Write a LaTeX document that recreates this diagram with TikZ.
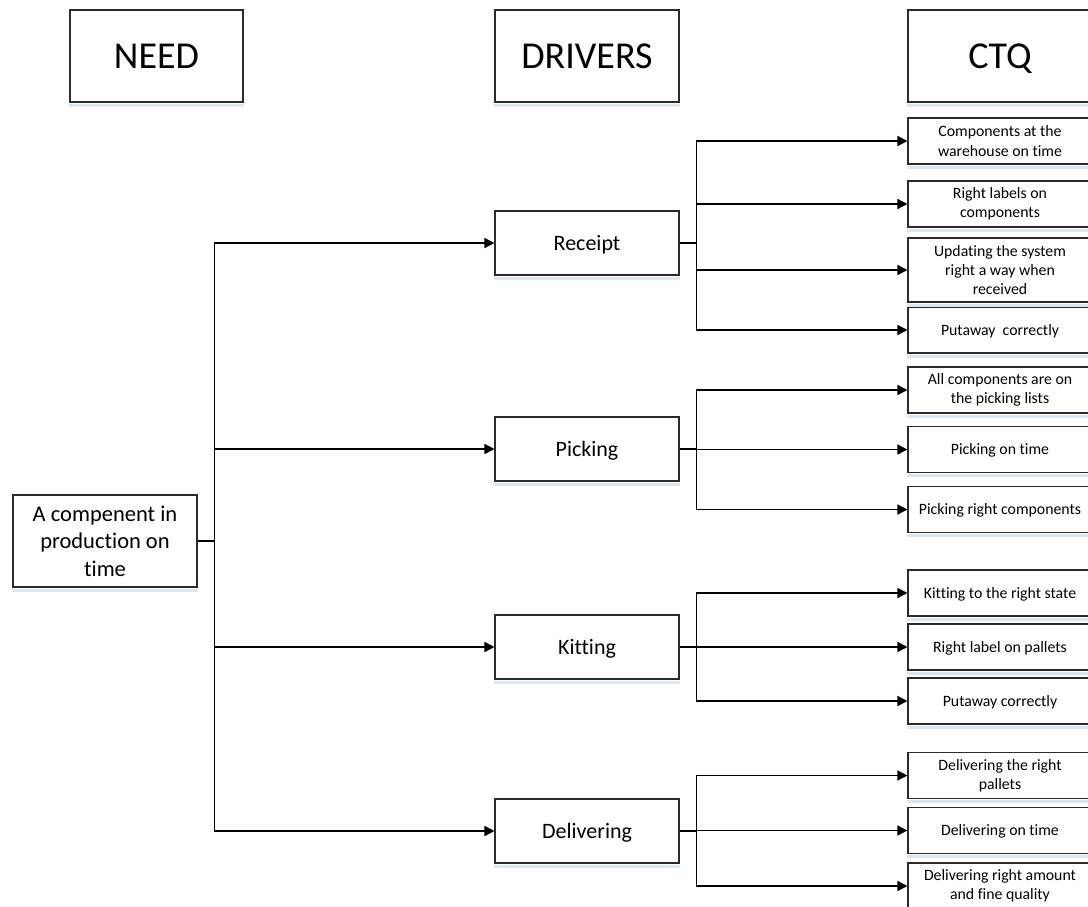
\documentclass[tikz,border=0pt]{standalone}
\usepackage{fontspec}
\setmainfont{Carlito}[Ligatures=NoCommon]
\usetikzlibrary{arrows.meta}

\definecolor{boxline}{HTML}{2B2B2B}
\definecolor{shadowblue}{HTML}{DAE6F4}

\tikzset{
  box/.style={draw=boxline, line width=1.1pt, fill=white, align=center,
              inner sep=2pt, anchor=center},
  headbox/.style={box, text height=24.5pt, text depth=0pt,
                  minimum height=92pt, font=\fontsize{38}{44}\selectfont},
  rootbox/.style={box, minimum width=184pt, minimum height=92pt,
                  font=\fontsize{22.5}{27.5}\selectfont},
  driverbox/.style={box, text height=14.2pt, text depth=0pt,
                    minimum width=184pt, minimum height=64pt,
                    font=\fontsize{22}{26}\selectfont},
  ctqbox/.style={box, minimum width=184pt, minimum height=46pt,
                 font=\fontsize{15.8}{19.3}\selectfont},
  ctqone/.style={ctqbox, text height=10.2pt, text depth=0pt},
  link/.style={line width=1.5pt, black,
               -{Triangle[length=10pt,width=10pt]}},
}

\begin{document}
\begin{tikzpicture}[x=1pt, y=-1pt]
  \useasboundingbox (0,0) rectangle (1088,906);
  \clip (0,0) rectangle (1088,906);

  % column headings
  \node[headbox, minimum width=173pt] (hneed) at (156.5,56) {NEED};
  \node[headbox, minimum width=184pt] (hdrv)  at (587,56)   {DRIVERS};
  \node[headbox, minimum width=184pt] (hctq)  at (1000,56)  {CTQ};

  % need
  \node[rootbox] (root) at (105,541) {A compenent in\\production on\\time};

  % drivers
  \node[driverbox] (rec) at (587,243) {Receipt};
  \node[driverbox] (pic) at (587,449) {Picking};
  \node[driverbox] (kit) at (587,647) {Kitting};
  \node[driverbox] (del) at (587,831) {Delivering};

  % critical to quality items
  \node[ctqbox] (r1) at (1000,141) {Components at the\\warehouse on time};
  \node[ctqbox] (r2) at (1000,204) {Right labels on\\components};
  \node[ctqbox, minimum height=64pt] (r3) at (1000,270) {Updating the system\\right a way when\\received};
  \node[ctqone] (r4) at (1000,330) {Putaway~ correctly};

  \node[ctqbox] (p1) at (1000,390) {All components are on\\the picking lists};
  \node[ctqone] (p2) at (1000,449.5) {Picking on time};
  \node[ctqone] (p3) at (1000,509.5) {Picking right components};

  \node[ctqone] (k1) at (1000,593) {Kitting to the right state};
  \node[ctqone] (k2) at (1000,647) {Right label on pallets};
  \node[ctqone] (k3) at (1000,701) {Putaway correctly};

  \node[ctqbox] (d1) at (1000,775.5) {Delivering the right\\pallets};
  \node[ctqone] (d2) at (1000,830.5) {Delivering on time};
  \node[ctqbox] (d3) at (1000,886) {Delivering right amount\\and fine quality};

  % soft strip under each box
  \foreach \n in {hneed,hdrv,hctq,root,rec,pic,kit,del,
                  r1,r2,r3,r4,p1,p2,p3,k1,k2,k3,d1,d2,d3}
    \fill[shadowblue] ([yshift=-1pt]\n.south west) rectangle ([yshift=-4pt]\n.south east);

  % connectors
  \foreach \c in {rec,pic,kit,del}
    \draw[link] (root.east) -- ++(17,0) |- (\c.west);
  \foreach \c in {r1,r2,r3,r4}
    \draw[link] (rec.east) -- ++(17,0) |- (\c.west);
  \foreach \c in {p1,p2,p3}
    \draw[link] (pic.east) -- ++(17,0) |- (\c.west);
  \foreach \c in {k1,k2,k3}
    \draw[link] (kit.east) -- ++(17,0) |- (\c.west);
  \foreach \c in {d1,d2,d3}
    \draw[link] (del.east) -- ++(17,0) |- (\c.west);
\end{tikzpicture}
\end{document}
